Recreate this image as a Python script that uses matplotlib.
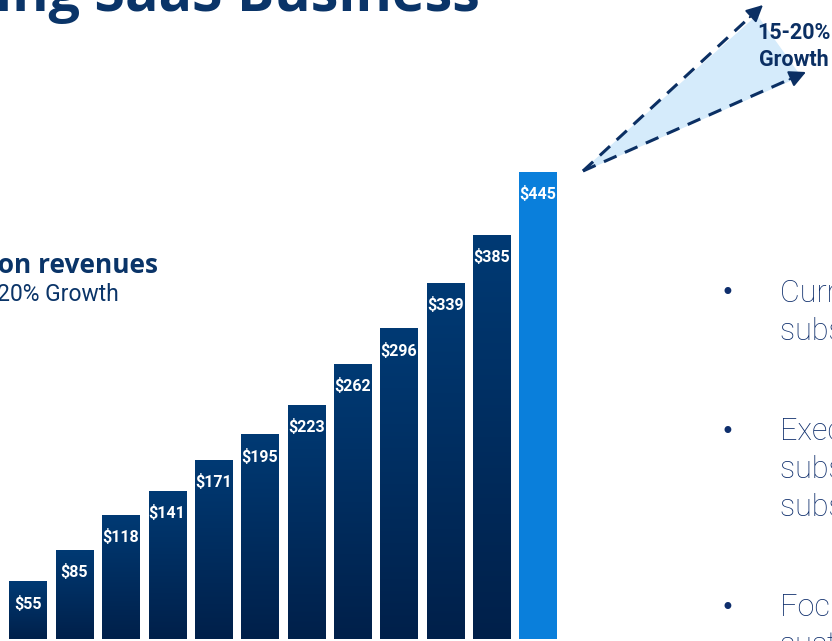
import matplotlib.pyplot as plt
import numpy as np
from matplotlib.colors import LinearSegmentedColormap

# subscription revenues ($M)
labels = ["$55", "$85", "$118", "$141", "$171", "$195", "$223", "$262", "$296", "$339", "$385", "$445"]
values = [55, 85, 118, 141, 171, 195, 223, 262, 296, 339, 385, 445]

navy = "#0b2f63"
text_navy = "#0e2e6c"
bar_top = "#013a74"
bar_bottom = "#00204a"
last_color = "#0a7fdb"

fig = plt.figure(figsize=(8.32, 6.41), dpi=100)
ax = fig.add_axes([0, 0, 1, 1])
ax.set_xlim(-0.604, 17.34)
ax.set_ylim(-1.9, 608.9)
ax.axis("off")

x = np.arange(len(values))
colors = [bar_top] * (len(values) - 1) + [last_color]
bars = ax.bar(x, values, width=0.8, color=colors, zorder=2)

# gradient fill on the dark bars
cmap = LinearSegmentedColormap.from_list("g", [bar_bottom, bar_top])
grad = np.linspace(0, 1, 256).reshape(-1, 1)
for b in bars[:-1]:
    x0, y0 = b.get_x(), b.get_y()
    im = ax.imshow(grad, cmap=cmap, origin="lower", aspect="auto",
                   extent=[x0, x0 + b.get_width(), y0, y0 + b.get_height()], zorder=3)
    im.set_clip_path(b)
ax.set_xlim(-0.604, 17.34)
ax.set_ylim(-1.9, 608.9)

for xi, v, lab in zip(x, values, labels):
    ax.annotate(lab, (xi, v), xytext=(0, -16), textcoords="offset points",
                ha="center", va="center", color="white", fontsize=11.5,
                fontweight="bold", family="Roboto", zorder=4)

# overlay in pixel coordinates for the slide decorations
ov = fig.add_axes([0, 0, 1, 1])
ov.set_xlim(0, 832)
ov.set_ylim(641, 0)
ov.axis("off")
ov.patch.set_alpha(0)

ov.text(480, 11, "Growing SaaS Business", ha="right", va="baseline",
        fontsize=40, fontweight="bold", family="Open Sans", color="#0a3468")

ov.text(158, 273, "Subscription revenues", ha="right", va="baseline",
        fontsize=19, fontweight="bold", family="Open Sans", color="#0a3468")
ov.text(119, 301, "15-20% Growth", ha="right", va="baseline",
        fontsize=16.5, family="Roboto", color="#0a3468")

# growth wedge
start = (583, 171)
up = (763, 5)
low = (806, 72)
ov.fill([start[0], 757, 800], [start[1], 16, 76], color="#d5ebfb", zorder=1)
for tip in (up, low):
    d = np.array(tip) - np.array(start)
    d = d / np.hypot(*d)
    end = np.array(tip) - d * 16
    ov.plot([start[0], end[0]], [start[1], end[1]], color=navy, lw=2.2,
            dashes=(4.5, 3), zorder=2)
    ov.annotate("", xy=tip, xytext=end - d * 2,
                arrowprops=dict(arrowstyle="-|>,head_length=1.0,head_width=0.5",
                                color=navy, lw=1.5, shrinkA=0, shrinkB=0), zorder=2)
ov.text(757, 33, "15-20%", ha="left", va="center", fontsize=15.5,
        fontweight="bold", family="Roboto", color=navy)
ov.text(759, 60, "Growth", ha="left", va="center", fontsize=15.5,
        fontweight="bold", family="Roboto", color=navy)

# bullet text on the right
bullets = [
    (293, ["Currently growing", "subscription base"]),
    (432, ["Executing on", "subscription and", "subscription upsell"]),
    (608, ["Focus on", "sustained growth"]),
]
for y0, lines in bullets:
    ov.text(727, y0, "\u2022", ha="center", va="center", fontsize=17, color=text_navy)
    for i, line in enumerate(lines):
        ov.text(780, y0 + i * 38, line, ha="left", va="center", fontsize=22,
                family="Roboto", fontweight="light", color=text_navy)

fig.savefig("out.png", dpi=100)
